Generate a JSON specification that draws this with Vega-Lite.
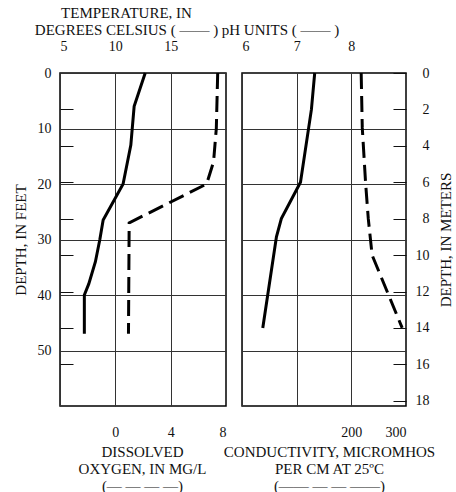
{
  "$schema": "https://vega.github.io/schema/vega-lite/v6.json",
  "padding": {"left": 12, "top": 4, "right": 2, "bottom": 0},
  "bounds": "flush",
  "spacing": 16,
  "datasets": {
    "temp": [
      {"depth": 0, "value": 12.7}, {"depth": 6, "value": 11.7}, {"depth": 13, "value": 11.4},
      {"depth": 20, "value": 10.7}, {"depth": 26.5, "value": 8.9}, {"depth": 30, "value": 8.6},
      {"depth": 34, "value": 8.2}, {"depth": 38, "value": 7.6}, {"depth": 40, "value": 7.2},
      {"depth": 47, "value": 7.2}
    ],
    "do": [
      {"depth": 0, "value": 7.4}, {"depth": 10, "value": 7.3}, {"depth": 16, "value": 7.1},
      {"depth": 20, "value": 6.6}, {"depth": 27, "value": 1.0}, {"depth": 47, "value": 0.95}
    ],
    "ph": [
      {"depth": 0, "value": 7.33}, {"depth": 1, "value": 7.3}, {"depth": 2, "value": 7.27},
      {"depth": 3, "value": 7.22}, {"depth": 6, "value": 7.07}, {"depth": 8, "value": 6.72},
      {"depth": 9, "value": 6.63}, {"depth": 14, "value": 6.38}
    ],
    "cond": [
      {"depth": 0, "value": 218}, {"depth": 3, "value": 220}, {"depth": 6, "value": 226},
      {"depth": 8, "value": 231}, {"depth": 10, "value": 238}, {"depth": 14, "value": 293}
    ]
  },
  "config": {
    "font": "Liberation Serif",
    "view": {"stroke": "#000", "strokeWidth": 1.5},
    "axis": {
      "labelFont": "Liberation Serif", "titleFont": "Liberation Serif",
      "labelFontSize": 14, "titleFontSize": 15, "titleFontWeight": "normal",
      "labelColor": "#111", "titleColor": "#111", "domain": false,
      "gridColor": "#333", "gridOpacity": 1, "gridWidth": 1, "tickColor": "#111"
    }
  },
  "hconcat": [
    {
      "width": 166, "height": 333,
      "layer": [
        {
          "data": {"name": "temp"},
          "mark": {"type": "line", "strokeWidth": 3, "color": "#000"},
          "encoding": {
            "x": {"field": "value", "type": "quantitative",
              "scale": {"domain": [5, 20], "nice": false, "zero": false},
              "axis": {"orient": "top", "values": [5, 10, 15], "grid": true, "ticks": false,
                "labelPadding": 20, "title": ["TEMPERATURE, IN", "DEGREES CELSIUS ( —— )"],
                "titlePadding": 2, "titleX": 66, "titleLineHeight": 17}},
            "y": {"field": "depth", "type": "quantitative",
              "scale": {"domain": [0, 60], "nice": false, "zero": false, "reverse": true},
              "axis": {"orient": "left", "values": [0, 10, 20, 30, 40, 50], "grid": true, "ticks": false,
                "labelPadding": 9, "title": "DEPTH, IN FEET", "titlePadding": 9}},
            "order": {"field": "depth", "type": "quantitative"}
          }
        },
        {
          "data": {"name": "do"},
          "mark": {"type": "line", "strokeWidth": 3, "color": "#000", "strokeDash": [16, 7]},
          "encoding": {
            "x": {"field": "value", "type": "quantitative",
              "scale": {"domain": [-4, 8], "nice": false, "zero": false},
              "axis": {"orient": "bottom", "values": [0, 4, 8], "grid": false, "ticks": false,
                "labelPadding": 19, "title": ["DISSOLVED", "OXYGEN, IN MG/L", "(— — — —)"],
                "titlePadding": 5, "titleX": 82, "titleLineHeight": 17}},
            "y": {"field": "depth", "type": "quantitative",
              "scale": {"domain": [0, 60], "nice": false, "zero": false, "reverse": true},
              "axis": {"orient": "left", "values": [6.5617, 13.1234, 19.685, 26.2467, 32.8084, 39.3701, 45.9318, 52.4934],
                "labels": false, "grid": false, "ticks": true, "tickSize": -13, "tickWidth": 1, "title": null}},
            "order": {"field": "depth", "type": "quantitative"}
          }
        }
      ],
      "resolve": {"scale": {"x": "independent", "y": "independent"}}
    },
    {
      "width": 164, "height": 333,
      "layer": [
        {
          "data": {"name": "ph"},
          "mark": {"type": "line", "strokeWidth": 3, "color": "#000"},
          "encoding": {
            "x": {"field": "value", "type": "quantitative",
              "scale": {"domain": [6, 9], "nice": false, "zero": false},
              "axis": {"orient": "top", "values": [6, 7, 8], "grid": true, "ticks": false,
                "labelPadding": 20, "title": "pH UNITS ( —— )", "titlePadding": 2, "titleX": 38}},
            "y": {"field": "depth", "type": "quantitative",
              "scale": {"domain": [0, 18.288], "nice": false, "zero": false, "reverse": true},
              "axis": {"orient": "left", "values": [3.048, 6.096, 9.144, 12.192, 15.24], "grid": true,
                "labels": false, "ticks": false, "title": null}},
            "order": {"field": "depth", "type": "quantitative"}
          }
        },
        {
          "data": {"name": "cond"},
          "mark": {"type": "line", "strokeWidth": 3, "color": "#000", "strokeDash": [16, 7]},
          "encoding": {
            "x": {"field": "value", "type": "quantitative",
              "scale": {"domain": [0, 300], "nice": false, "zero": false},
              "axis": {"orient": "bottom", "values": [200, 300], "grid": false, "ticks": false,
                "labelPadding": 19, "title": ["CONDUCTIVITY, MICROMHOS", "PER CM AT 25ºC", "(—— — — ——)"],
                "titlePadding": 5, "titleX": 87, "titleLineHeight": 17}},
            "y": {"field": "depth", "type": "quantitative",
              "scale": {"domain": [0, 18.288], "nice": false, "zero": false, "reverse": true},
              "axis": {"orient": "right", "values": [0, 2, 4, 6, 8, 10, 12, 14, 16, 18],
                "ticks": true, "tickSize": -13, "tickWidth": 1, "labelPadding": 36, "labelAlign": "right",
                "title": "DEPTH, IN METERS", "titleAngle": 270, "titlePadding": 24}},
            "order": {"field": "depth", "type": "quantitative"}
          }
        }
      ],
      "resolve": {"scale": {"x": "independent", "y": "independent"}}
    }
  ]
}
